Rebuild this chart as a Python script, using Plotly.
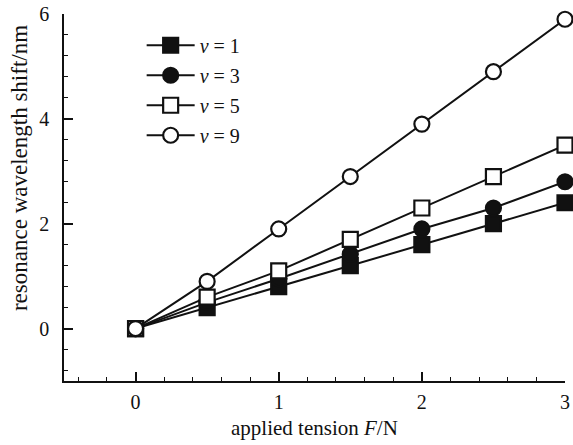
import plotly.graph_objects as go

tension = [0, 0.5, 1, 1.5, 2, 2.5, 3]
shift_v1 = [0, 0.4, 0.8, 1.2, 1.6, 2.0, 2.4]
shift_v3 = [0, 0.5, 0.95, 1.42, 1.9, 2.3, 2.8]
shift_v5 = [0, 0.6, 1.1, 1.7, 2.3, 2.9, 3.5]
shift_v9 = [0, 0.9, 1.9, 2.9, 3.9, 4.9, 5.9]

series = [
    ("<i>v</i> = 1", shift_v1, "square", "#111111"),
    ("<i>v</i> = 3", shift_v3, "circle", "#111111"),
    ("<i>v</i> = 5", shift_v5, "square", "white"),
    ("<i>v</i> = 9", shift_v9, "circle", "white"),
]

FONT = "Liberation Serif"
INK = "#111111"
fig = go.Figure()
for i, (name, ys, sym, fill) in enumerate(series):
    fig.add_trace(go.Scatter(
        x=tension, y=ys, name=name, mode="lines+markers",
        legendgroup=f"g{i}",
        line=dict(color=INK, width=2),
        marker=dict(symbol=sym, size=15, color=fill,
                    line=dict(color=INK, width=2.2)),
        cliponaxis=False,
    ))

axis_common = dict(
    showline=True, linecolor=INK, linewidth=1.5,
    ticks="inside", ticklen=9, tickwidth=1.5, tickcolor=INK,
    showgrid=False, zeroline=False, mirror=False, automargin=False,
    tickfont=dict(family=FONT, size=20, color=INK),
)

fig.update_xaxes(
    range=[-0.5, 3], tick0=0, dtick=1,
    minor=dict(dtick=0.2, ticks="inside", ticklen=4, tickwidth=1.2,
               tickcolor=INK, showgrid=False),
    ticklabelstandoff=2,
    **axis_common,
)
fig.update_yaxes(
    range=[-1, 6], tick0=0, dtick=2,
    minor=dict(dtick=0.4, ticks="inside", ticklen=4, tickwidth=1.2,
               tickcolor=INK, showgrid=False),
    ticklabelstandoff=9,
    **axis_common,
)

fig.add_annotation(
    text="applied tension <i>F</i>/N", xref="paper", yref="paper",
    x=0.5, y=-0.128, xanchor="center", yanchor="middle", showarrow=False,
    font=dict(family=FONT, size=21, color=INK),
)
fig.add_annotation(
    text="resonance wavelength shift/nm", xref="paper", yref="paper",
    x=-0.09, y=0.58, xanchor="center", yanchor="middle", showarrow=False,
    textangle=-90, font=dict(family=FONT, size=23, color=INK),
)

fig.update_layout(
    width=573, height=445,
    margin=dict(l=64, r=8, t=14, b=64),
    paper_bgcolor="white", plot_bgcolor="white",
    font=dict(family=FONT, color=INK),
    legend=dict(x=0.155, y=0.968, xanchor="left", yanchor="top",
                bgcolor="rgba(0,0,0,0)", itemwidth=48,
                font=dict(family=FONT, size=20, color=INK),
                tracegroupgap=1),
)

fig.write_html(
    "out.html",
    config={"displayModeBar": False},
    post_script="document.body.style.margin='0';document.body.style.overflow='hidden';",
)
